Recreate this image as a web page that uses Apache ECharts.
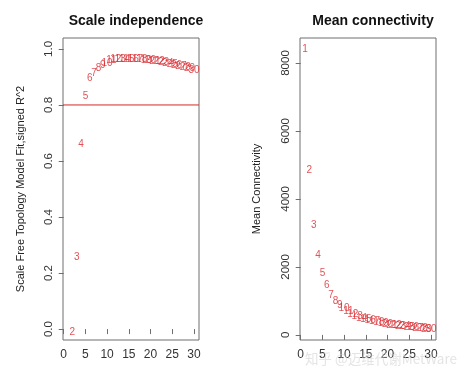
<!DOCTYPE html>
<html>
<head>
<meta charset="utf-8">
<script src="https://cdn.jsdelivr.net/npm/echarts@6/dist/echarts.min.js"></script>
<style>html,body{margin:0;padding:0;background:#fff}#c{width:474px;height:379px}</style>
</head>
<body>
<div id="c"></div>
<script>
// Soft-threshold powers
const powers = [1,2,3,4,5,6,7,8,9,10,11,12,13,14,15,16,17,18,19,20,21,22,23,24,25,26,27,28,29,30];
// Scale-free topology fit (signed R^2); power 1 lies outside the plotted range
const scaleFit = [null,-0.01,0.256,0.66,0.83,0.895,0.914,0.932,0.940,0.949,0.960,0.962,0.963,0.963,0.963,0.963,0.962,0.962,0.961,0.959,0.957,0.955,0.952,0.949,0.946,0.942,0.938,0.934,0.930,0.925];
// Mean connectivity
const meanK = [8410,4850,3240,2350,1800,1450,1180,980,880,790,690,620,560,500,460,420,390,360,335,310,290,270,255,240,225,212,200,190,180,165];
// R^2 cut-off line
const threshold = 0.8;
// Tick labels
const xTicks = [0,5,10,15,20,25,30];
const yTicksLeft = [0.0,0.2,0.4,0.6,0.8,1.0];
const yTicksRight = [0,2000,4000,6000,8000];

const FONT = '"Liberation Sans", Arial, sans-serif';
const RED = '#d8282e';
const AX = '#6e6e6e';
const XMIN = -0.16, XMAX = 31.16;

function pts(vals){ return powers.map((p,i)=> vals[i]==null ? null : [p, vals[i]]).filter(Boolean); }

function xAxis(gi){
  return {
    gridIndex: gi, type:'value', min:XMIN, max:XMAX,
    axisLine:{show:false},
    axisTick:{show:true, inside:false, length:5, lineStyle:{color:AX}, customValues:xTicks},
    axisLabel:{show:true, customValues:xTicks, color:'#333', fontSize:12, fontFamily:FONT, margin:9},
    splitLine:{show:false}
  };
}
function yAxis(gi, min, max, ticks, fmt, name){
  return {
    gridIndex: gi, type:'value', min:min, max:max,
    axisLine:{show:false},
    axisTick:{show:true, inside:false, length:5, lineStyle:{color:AX}, customValues:ticks},
    axisLabel:{show:true, customValues:ticks, rotate:90, color:'#333', fontSize:11.5, fontFamily:FONT, margin:8, formatter:fmt},
    splitLine:{show:false},
    name:name, nameLocation:'middle', nameRotate:90,
    nameTextStyle:{color:'#222', fontSize:11, fontFamily:FONT}
  };
}

const chart = echarts.init(document.getElementById('c'), null, {renderer:'canvas'});
chart.setOption({
  animation:false,
  backgroundColor:'#fff',
  title:[
    {text:'Scale independence', left:131, top:9, textAlign:'center', textStyle:{fontSize:14, fontWeight:'bold', color:'#111', fontFamily:FONT}},
    {text:'Mean connectivity', left:368, top:9, textAlign:'center', textStyle:{fontSize:14, fontWeight:'bold', color:'#111', fontFamily:FONT}}
  ],
  grid:[
    {left:63, top:38, width:136, height:302, show:true, borderColor:AX, borderWidth:1, backgroundColor:'transparent'},
    {left:300, top:38, width:136, height:302, show:true, borderColor:AX, borderWidth:1, backgroundColor:'transparent'}
  ],
  xAxis:[xAxis(0), xAxis(1)],
  yAxis:[
    Object.assign(yAxis(0, -0.039, 1.039, yTicksLeft, v=>v.toFixed(1), 'Scale Free Topology Model Fit,signed R^2'), {nameGap:37}),
    Object.assign(yAxis(1, -150, 8735, yTicksRight, v=>String(v), 'Mean Connectivity'), {nameGap:38})
  ],
  series:[
    {
      type:'line', xAxisIndex:0, yAxisIndex:0, data:[[XMIN, threshold],[XMAX, threshold]],
      symbol:'none', silent:true, z:1,
      lineStyle:{color:'#d42a2a', width:1}, itemStyle:{color:'#d42a2a'}
    },
    {
      type:'scatter', xAxisIndex:0, yAxisIndex:0, data:pts(scaleFit),
      symbolSize:0, clip:true, itemStyle:{color:RED}, z:2,
      label:{show:true, position:'inside', formatter:p=>String(p.value[0]), color:RED, fontSize:10, fontFamily:FONT}
    },
    {
      type:'scatter', xAxisIndex:1, yAxisIndex:1, data:pts(meanK),
      symbolSize:0, clip:true, itemStyle:{color:RED},
      label:{show:true, position:'inside', formatter:p=>String(p.value[0]), color:RED, fontSize:10, fontFamily:FONT}
    }
  ],
  graphic:[
    {type:'text', left:305, top:352, z:100, style:{text:'知乎 @迈维代谢MetWare', fill:'rgba(205,205,205,0.55)', fontSize:13.5, fontFamily:'"Noto Sans CJK SC", sans-serif'}}
  ]
});
</script>
</body>
</html>
